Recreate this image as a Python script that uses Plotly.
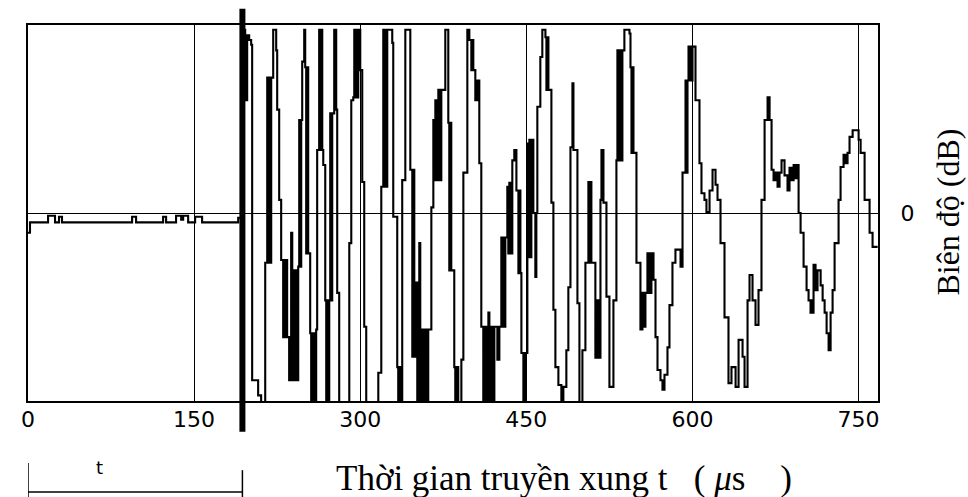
import plotly.graph_objects as go

# ---- data (time in microseconds, amplitude in dB) ----
base_t = [0, 1.8, 18.1, 24.4, 28.0, 30.7, 94.0, 97.6, 122.0, 124.7, 133.7, 138.3,
          140.1, 144.6, 150.9, 157.2, 189.8]
base_amp = [-2.1, -1.0, -0.3, -1.0, -0.4, -1.0, -0.4, -1.0, -0.4, -1.0, -0.3, -0.7,
            -0.3, -1.0, -0.4, -1.0, -0.5]

echo_t = [194.3, 196.1, 197.9, 199.7, 201.5, 202.4, 207.8, 210.5, 214.2, 216.0,
          217.8, 219.6, 221.4, 224.1, 225.0, 226.8, 228.6, 230.4, 232.2, 234.0,
          235.8, 237.6, 238.6, 240.4, 242.2, 244.0, 244.9, 245.8, 246.7, 247.6,
          249.4, 250.3, 251.2, 252.1, 253.0, 254.8, 255.7, 257.5, 258.4, 260.2,
          261.1, 262.9, 263.9, 264.8, 265.7, 266.6, 268.4, 269.3, 270.2, 271.1,
          272.0, 272.9, 273.8, 274.7, 276.5, 278.3, 279.2, 281.0, 290.1, 291.9,
          293.7, 294.6, 296.4, 298.2, 300.0, 301.8, 303.6, 305.4, 316.3, 319.0,
          320.8, 321.7, 322.6, 323.5, 324.4, 328.9, 329.8, 333.4, 334.3, 335.2,
          336.1, 337.9, 340.7, 345.2, 347.0, 347.9, 348.8, 350.6, 351.5, 353.3,
          354.2, 356.0, 356.9, 358.7, 359.6, 361.4, 364.2, 366.0, 366.9, 367.8,
          368.7, 370.5, 372.3, 373.2, 376.8, 379.5, 380.4, 381.3, 382.2, 384.9,
          385.8, 386.7, 388.5, 391.3, 393.1, 396.7, 398.5, 400.3, 401.2, 402.1,
          403.9, 405.7, 407.5, 409.3, 411.1, 413.0, 413.9, 415.7, 416.6, 418.4,
          419.3, 421.1, 423.8, 425.6, 427.4, 428.3, 429.2, 430.1, 431.0, 432.8,
          433.7, 434.6, 435.5, 437.3, 439.1, 441.0, 442.8, 443.7, 444.6, 445.5,
          447.3, 449.1, 450.9, 451.8, 452.7, 453.6, 454.5, 456.3, 458.1, 459.0,
          459.9, 462.6, 464.4, 467.2, 468.1, 469.0, 469.9, 472.6, 474.4, 476.2,
          478.9, 481.6, 483.4, 486.1, 487.9, 489.8, 491.6, 492.5, 496.1, 497.9,
          500.6, 503.3, 506.0, 506.9, 507.8, 508.7, 512.3, 514.1, 515.1, 516.9,
          517.8, 519.6, 522.3, 525.0, 528.6, 531.3, 532.2, 533.1, 534.0, 534.9,
          536.7, 538.5, 543.1, 544.0, 544.9, 545.8, 546.7, 549.4, 553.0, 554.8,
          556.6, 557.5, 559.3, 561.1, 562.9, 564.8, 566.6, 568.4, 571.1, 572.9,
          574.7, 577.4, 579.2, 581.9, 584.6, 589.2, 591.0, 593.7, 594.6, 595.5,
          596.4, 598.2, 600.0, 602.7, 606.3, 608.1, 610.8, 612.6, 615.4, 618.1,
          620.8, 622.6, 625.3, 628.9, 632.5, 635.2, 638.9, 641.6, 645.2, 647.0,
          649.7, 651.5, 654.2, 656.9, 659.6, 662.3, 665.1, 667.8, 669.6, 671.4,
          673.2, 675.0, 676.8, 678.6, 680.4, 683.1, 685.8, 687.6, 689.4, 691.3,
          693.1, 694.9, 695.8, 697.6, 700.3, 703.0, 704.8, 706.6, 707.5, 708.4,
          709.3, 711.1, 712.9, 715.7, 717.5, 719.3, 721.1, 722.9, 724.7, 726.5,
          728.3, 731.9, 733.7, 736.4, 738.2, 740.0, 741.8, 744.6, 748.2, 750.0,
          751.8, 755.4, 759.9, 762.6, 764.4, 767.2]
echo_amp = [19.5, 12.0, 18.9, 18.4, 17.9, -17.8, -19.4, -22, -5.3, 14.4,
            -5.3, 14.4, 19.5, 17.3, 11.0, 1.4, -5.0, -13.2, -5.0, -13.2,
            -17.8, -2.1, -17.8, -6.1, -17.8, -5.7, 9.9, -5.7, 9.9, 16.1,
            19.5, 15.5, -4.3, 15.5, -4.3, -12.8, -22, -12.8, -22, -12.4,
            6.7, 19.5, 6.7, 19.5, 6.7, 5.1, -9.3, -22, -9.3, -22,
            -9.3, 10.6, -9.3, 10.6, 19.5, 11.0, -8.5, -22, -3.2, 12.0,
            12.3, 19.5, 12.3, 19.5, 15.2, 3.3, -12.1, -22, -17.0, 2.8,
            19.5, 2.8, 19.5, 2.8, 19.5, 18.1, -0.4, -16.4, -22, -16.4,
            -22, 3.5, 19.5, 4.6, -15.3, 4.6, -15.3, -7.4, -22, -3.2,
            -22, -12.4, -22, -12.4, -22, -12.4, 0.6, 9.9, 3.5, 12.0,
            3.5, 13.1, 3.5, 13.1, 19.5, 9.6, -6.1, 9.6, -6.1, -16.4,
            -22, -16.4, -22, -15.6, 4.3, 19.5, 18.4, 15.2, 18.4, 15.2,
            12.0, 14.1, 5.3, -12.1, -22, -12.1, -22, -10.6, -22, -12.1,
            -22, -12.1, -15.6, -12.1, -2.6, -12.1, -2.6, -12.1, -2.6, 2.8,
            -4.3, 3.2, -4.3, 5.6, 6.7, 2.4, -6.4, 2.4, -6.4, -14.9,
            -22, -14.9, 7.4, -4.7, 7.8, -4.7, 7.8, 0.0, -6.8, 0.0,
            11.3, 16.6, 19.5, 18.7, 13.1, 18.7, 13.1, 1.1, -10.3, -16.4,
            -18.3, -22, -18.5, -14.6, -7.9, 7.0, 13.8, 6.7, -9.6, -22,
            -14.6, -5.3, 3.3, -5.3, 3.3, -5.3, -15.4, -9.3, -15.4, 1.4,
            6.7, 1.1, -8.9, -18.5, -9.3, 5.6, 17.3, 5.6, 17.3, 5.6,
            17.3, 19.5, 19.1, 15.5, 6.4, 15.5, 6.4, -5.3, -12.4, -8.5,
            -12.1, -8.5, -4.3, -8.5, -4.3, -7.1, -13.2, -16.7, -17.8, -18.8,
            -17.2, -14.3, -9.8, -5.3, -3.9, -5.7, 4.3, 14.1, 4.3, 14.1,
            17.7, 14.1, 17.7, 12.0, 5.3, 2.1, 1.4, 0.1, 2.4, 4.6,
            3.0, 1.4, -3.2, -11.1, -18.1, -16.4, -18.5, -13.5, -15.3, -18.5,
            -9.3, -6.6, -9.3, -11.9, -8.2, 1.4, 9.9, 12.3, 9.9, 4.6,
            3.5, 4.3, 2.8, 4.3, 5.6, 4.0, 2.4, 4.8, 3.5, 5.1,
            3.7, 5.1, 0.0, -2.1, -5.7, -8.2, -9.3, -10.6, -9.3, -10.6,
            -5.5, -8.2, -6.1, -7.7, -9.3, -10.6, -12.8, -14.6, -10.6, -8.2,
            -3.2, 1.4, 4.9, 6.2, 5.3, 6.4, 8.1, 8.8, 8.8, 7.8,
            6.4, 1.4, -2.1, -3.6, -3.6, -3.6]

x_ticks = [0, 150, 300, 450, 600, 750]
x_tick_labels = ["0", "150", "300", "450", "600", "750"]
t_mark = 193.6          # end of the transmit interval "t"
x_range = [0, 767.5]
y_range = [-20, 20]

x_title = "Thời gian truyền xung t\u00a0\u00a0 (\u00a0<i>μ</i>s\u00a0\u00a0\u00a0 )"
y_title = "Biên độ (dB)"

fig = go.Figure()
fig.add_trace(go.Scatter(
    x=base_t + echo_t, y=base_amp + echo_amp,
    mode="lines", line=dict(color="black", width=2.1, shape="hv"),
    hoverinfo="skip", showlegend=False))

fig.update_layout(
    width=968, height=497,
    margin=dict(l=28, r=90, t=25, b=96),
    paper_bgcolor="white", plot_bgcolor="white",
    showlegend=False,
    xaxis=dict(range=x_range, tickvals=x_ticks, ticktext=x_tick_labels,
               showgrid=True, gridcolor="black", gridwidth=1.2,
               zeroline=False, showline=True, linecolor="black", linewidth=2,
               mirror=True, ticks="", ticklabelstandoff=-2,
               tickfont=dict(family="DejaVu Sans", size=22, color="black")),
    yaxis=dict(range=y_range, tickvals=[0], ticktext=["0"], side="right",
               showgrid=True, gridcolor="black", gridwidth=1.2,
               zeroline=False, showline=True, linecolor="black", linewidth=2,
               mirror=True, ticks="", ticklabelstandoff=16,
               tickfont=dict(family="DejaVu Sans", size=22, color="black")),
)

# thick marker at the end of interval t, crossing the frame
fig.add_shape(type="line", xref="x", yref="paper", x0=t_mark, x1=t_mark,
              y0=-0.082, y1=1.043, line=dict(color="black", width=6))
# bracket showing interval t
fig.add_shape(type="line", xref="x", yref="paper", x0=0, x1=0,
              y0=-0.165, y1=-0.28, line=dict(color="black", width=1.5))
fig.add_shape(type="line", xref="x", yref="paper", x0=t_mark, x1=t_mark,
              y0=-0.184, y1=-0.28, line=dict(color="black", width=1.5))
fig.add_shape(type="line", xref="x", yref="paper", x0=0, x1=t_mark,
              y0=-0.242, y1=-0.242, line=dict(color="black", width=1.5))

fig.add_annotation(x=65, xref="x", y=-0.21, yref="paper", text="t",
                   showarrow=False, font=dict(family="DejaVu Sans", size=18, color="black"))
fig.add_annotation(x=0.631, xref="paper", y=-0.205, yref="paper", text=x_title,
                   showarrow=False, xanchor="center", yanchor="middle",
                   font=dict(family="Liberation Serif", size=35, color="black"))
fig.add_annotation(x=1.082, xref="paper", y=0.503, yref="paper", text=y_title,
                   textangle=-90, showarrow=False, xanchor="center", yanchor="middle",
                   font=dict(family="Liberation Serif", size=32, color="black"))

fig.write_html("out.html", config={"displayModeBar": False},
               post_script="document.body.style.margin='0';")
